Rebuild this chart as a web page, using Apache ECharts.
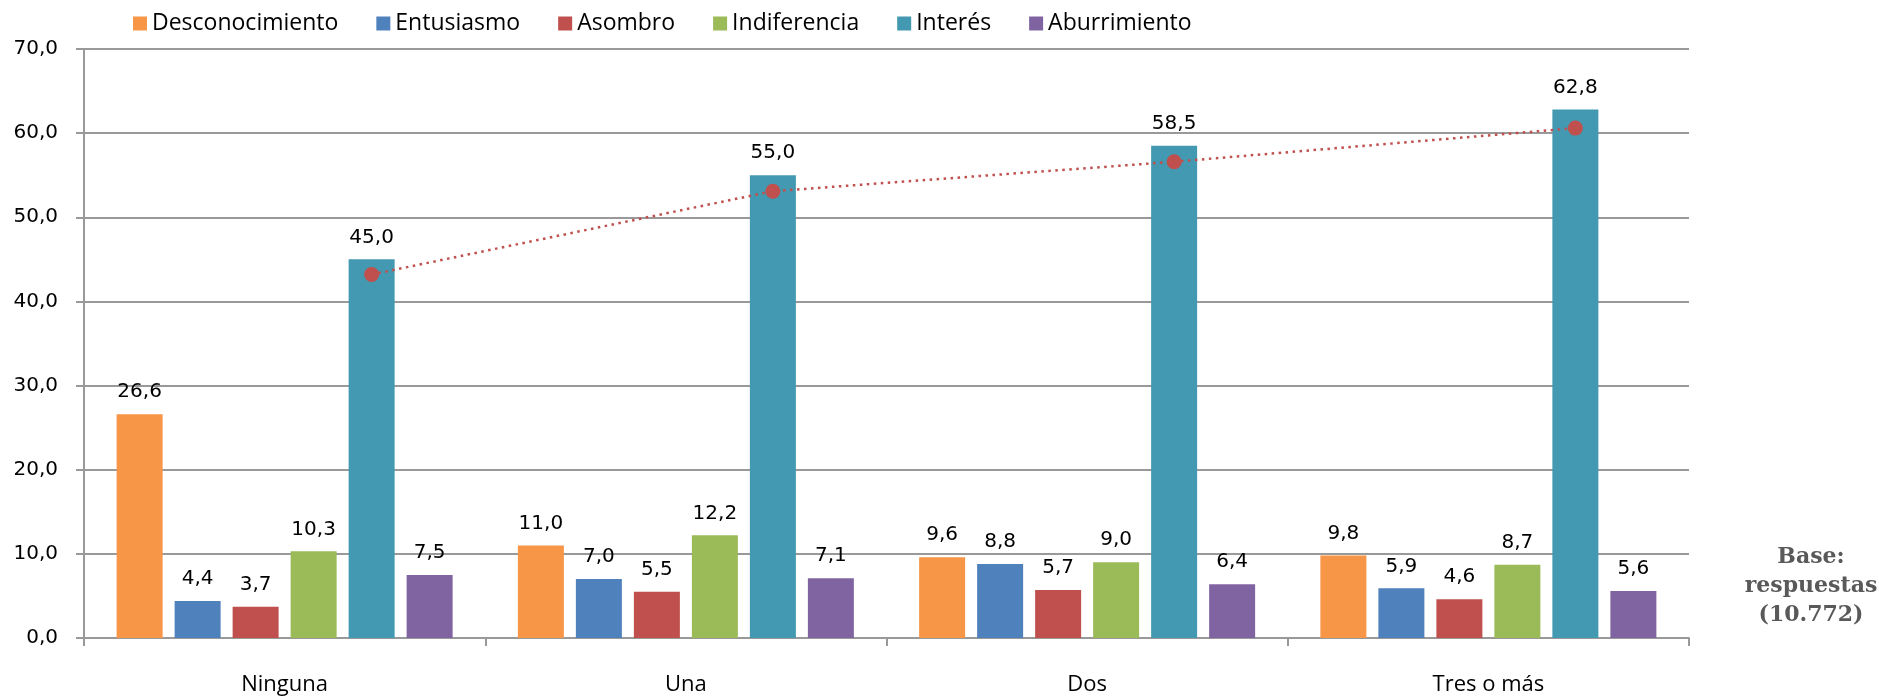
<!DOCTYPE html>
<html>
<head>
<meta charset="utf-8">
<script src="https://cdn.jsdelivr.net/npm/echarts@6/dist/echarts.min.js"></script>
<style>
  html, body { margin: 0; padding: 0; background: #fff; }
  #chart { width: 1879px; height: 696px; }
</style>
</head>
<body>
<div id="chart"></div>
<script>
// datos
const categorias = ['Ninguna', 'Una', 'Dos', 'Tres o más'];
const desconocimiento = [26.6, 11.0, 9.6, 9.8];
const entusiasmo = [4.4, 7.0, 8.8, 5.9];
const asombro = [3.7, 5.5, 5.7, 4.6];
const indiferencia = [10.3, 12.2, 9.0, 8.7];
const interes = [45.0, 55.0, 58.5, 62.8];
const aburrimiento = [7.5, 7.1, 6.4, 5.6];
// línea de tendencia (puntos rojos sobre las barras de Interés)
const tendencia = [43.2, 53.1, 56.6, 60.6];

const series_nombres = ['Desconocimiento', 'Entusiasmo', 'Asombro', 'Indiferencia', 'Interés', 'Aburrimiento'];
const series_datos = [desconocimiento, entusiasmo, asombro, indiferencia, interes, aburrimiento];
const colores = ['#F79646', '#4F81BD', '#C0504D', '#9BBB59', '#4399B1', '#8064A2'];

const gridLeft = 84, gridRight = 190;
const anchoBarra = 46, hueco = 12;

const chart = echarts.init(document.getElementById('chart'));

const fmt = v => Number(v).toFixed(1).replace('.', ',');

// desplazamiento de la barra de Interés dentro de su categoría
const anchoCat = (chart.getWidth() - gridLeft - gridRight) / categorias.length;
const despl = (4 - 2.5) * (anchoBarra + hueco) / anchoCat;

const barras = series_nombres.map((nombre, i) => ({
    name: nombre,
    type: 'bar',
    data: series_datos[i],
    barWidth: anchoBarra,
    barGap: (hueco / anchoBarra * 100) + '%',
    itemStyle: { color: colores[i] },
    label: {
        show: true,
        position: 'top',
        distance: 12,
        formatter: p => fmt(p.value),
        fontFamily: 'DejaVu Sans',
        fontSize: 20,
        color: '#000'
    }
}));

const option = {
    animation: false,
    color: colores,
    legend: {
        data: series_nombres,
        left: 128,
        top: 7,
        itemWidth: 14,
        itemHeight: 14,
        itemGap: 38,
        icon: 'rect',
        textStyle: { fontFamily: 'Open Sans', fontSize: 23, color: '#000' }
    },
    grid: { left: gridLeft, right: gridRight, top: 49, bottom: 55 },
    xAxis: [{
        type: 'category',
        data: categorias,
        axisLine: { lineStyle: { color: '#999', width: 2 } },
        axisTick: { show: true, length: 8, lineStyle: { color: '#999', width: 2 } },
        axisLabel: { margin: 36, fontFamily: 'Open Sans', fontSize: 22, color: '#000' }
    }, {
        type: 'value',
        min: 0,
        max: categorias.length,
        show: false
    }],
    yAxis: {
        type: 'value',
        min: 0,
        max: 70,
        interval: 10,
        axisLine: { show: true, lineStyle: { color: '#999', width: 2 } },
        axisTick: { show: true, length: 8, lineStyle: { color: '#999', width: 2 } },
        splitLine: { lineStyle: { color: '#999', width: 2 } },
        axisLabel: { margin: 26, formatter: fmt, fontFamily: 'DejaVu Sans', fontSize: 20, color: '#000' }
    },
    graphic: [{
        type: 'text',
        x: 1811,
        y: 543,
        style: {
            text: 'Base:\nrespuestas\n(10.772)',
            font: 'bold 22px "DejaVu Serif"',
            fill: '#595959',
            align: 'center',
            verticalAlign: 'top',
            lineHeight: 29
        }
    }],
    series: barras.concat([{
        name: 'Tendencia',
        type: 'line',
        xAxisIndex: 1,
        data: tendencia.map((v, i) => [i + 0.5 + despl, v]),
        symbol: 'circle',
        symbolSize: 15,
        itemStyle: { color: '#C0504D' },
        lineStyle: { color: '#C0504D', width: 2.5, type: [2.5, 4.5] },
        z: 5
    }])
};

chart.setOption(option);
</script>
</body>
</html>
